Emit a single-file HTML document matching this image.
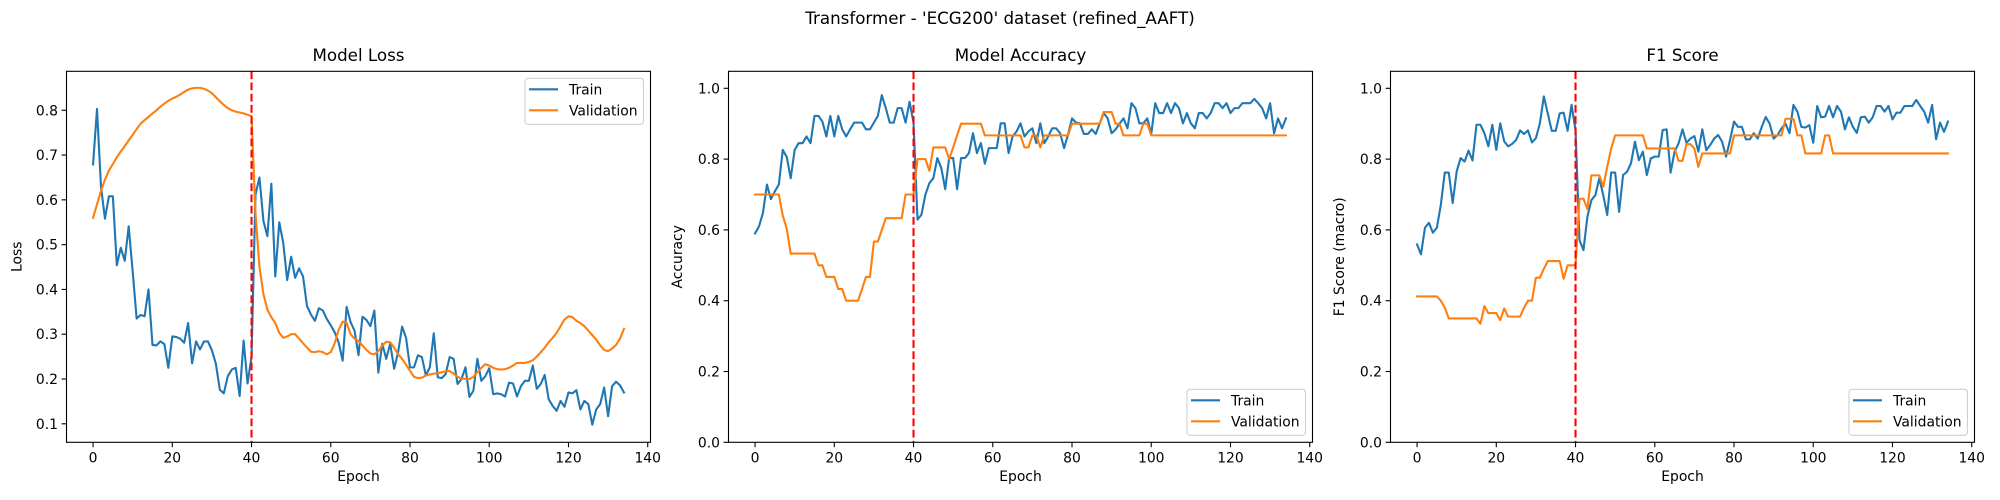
<!DOCTYPE html>
<html><head><meta charset="utf-8">
<style>
html,body{margin:0;padding:0;background:#fff;}
svg{display:block;font-family:"DejaVu Sans","Liberation Sans",sans-serif;}
</style></head>
<body>
<svg id="fig" width="2000" height="500" viewBox="0 0 2000 500" xmlns="http://www.w3.org/2000/svg">
<rect width="2000" height="500" fill="#fff"/>
<text x="1000" y="24" text-anchor="middle" font-size="16.7" fill="#000">Transformer - 'ECG200' dataset (refined_AAFT)</text>
</svg>
<script>
const epochs = Array.from({length:135},(_,i)=>i);
const xTicks = [0,20,40,60,80,100,120,140];
const lossTicks = [0.1,0.2,0.3,0.4,0.5,0.6,0.7,0.8];
const unitTicks = [0.0,0.2,0.4,0.6,0.8,1.0];
const switchEpoch = 40;

const lossTrain = [0.679,0.803,0.63,0.558,0.608,0.608,0.454,0.493,0.464,0.541,0.44,0.335,0.343,0.34,0.4,0.276,0.275,0.284,0.278,0.225,0.295,0.294,0.29,0.281,0.325,0.235,0.284,0.266,0.284,0.284,0.264,0.234,0.176,0.168,0.206,0.221,0.225,0.162,0.286,0.19,0.25,0.612,0.65,0.553,0.519,0.636,0.429,0.55,0.504,0.421,0.473,0.426,0.447,0.429,0.363,0.344,0.33,0.358,0.353,0.334,0.32,0.304,0.281,0.241,0.361,0.327,0.308,0.253,0.339,0.332,0.318,0.353,0.214,0.279,0.245,0.279,0.223,0.26,0.317,0.292,0.226,0.226,0.253,0.249,0.208,0.226,0.302,0.204,0.202,0.211,0.249,0.245,0.189,0.2,0.226,0.16,0.174,0.245,0.196,0.206,0.224,0.166,0.168,0.166,0.161,0.192,0.19,0.161,0.184,0.196,0.196,0.23,0.178,0.189,0.209,0.155,0.14,0.129,0.151,0.138,0.17,0.168,0.175,0.132,0.151,0.144,0.098,0.132,0.144,0.181,0.117,0.184,0.194,0.186,0.17];
const lossVal = [0.56,0.59,0.62,0.645,0.665,0.68,0.695,0.708,0.72,0.733,0.745,0.758,0.77,0.778,0.785,0.793,0.80,0.808,0.815,0.821,0.826,0.83,0.835,0.841,0.846,0.849,0.85,0.85,0.848,0.844,0.838,0.829,0.82,0.812,0.805,0.8,0.797,0.795,0.793,0.79,0.787,0.57,0.45,0.39,0.355,0.338,0.325,0.303,0.292,0.295,0.30,0.30,0.29,0.28,0.27,0.261,0.26,0.262,0.26,0.255,0.26,0.28,0.31,0.328,0.325,0.30,0.29,0.285,0.275,0.265,0.257,0.255,0.262,0.275,0.283,0.282,0.27,0.255,0.245,0.232,0.218,0.205,0.202,0.203,0.208,0.21,0.212,0.213,0.215,0.217,0.218,0.212,0.205,0.201,0.2,0.2,0.205,0.215,0.225,0.233,0.23,0.225,0.222,0.221,0.222,0.225,0.23,0.236,0.236,0.236,0.238,0.242,0.25,0.26,0.27,0.282,0.292,0.303,0.318,0.333,0.34,0.338,0.33,0.325,0.318,0.308,0.298,0.288,0.275,0.265,0.262,0.268,0.276,0.29,0.312];
const accTrain = [0.59,0.61,0.648,0.728,0.687,0.709,0.728,0.826,0.806,0.746,0.826,0.845,0.845,0.864,0.845,0.922,0.922,0.906,0.864,0.922,0.864,0.922,0.884,0.864,0.884,0.903,0.903,0.903,0.884,0.884,0.903,0.922,0.981,0.944,0.903,0.903,0.944,0.944,0.903,0.962,0.903,0.629,0.643,0.7,0.732,0.746,0.803,0.775,0.715,0.803,0.803,0.715,0.803,0.803,0.817,0.873,0.817,0.845,0.787,0.831,0.831,0.831,0.901,0.901,0.817,0.864,0.878,0.901,0.864,0.878,0.887,0.845,0.901,0.845,0.864,0.887,0.887,0.873,0.831,0.869,0.915,0.903,0.901,0.871,0.871,0.884,0.871,0.901,0.93,0.915,0.873,0.884,0.9,0.915,0.887,0.958,0.944,0.901,0.901,0.915,0.871,0.958,0.93,0.93,0.958,0.93,0.958,0.944,0.901,0.93,0.901,0.887,0.93,0.93,0.915,0.93,0.958,0.958,0.944,0.958,0.93,0.944,0.944,0.958,0.958,0.958,0.97,0.958,0.944,0.915,0.958,0.873,0.915,0.887,0.915];
const accVal = [0.7,0.7,0.7,0.7,0.7,0.7,0.7,0.64,0.603,0.533,0.533,0.533,0.533,0.533,0.533,0.533,0.5,0.5,0.467,0.467,0.467,0.433,0.433,0.4,0.4,0.4,0.4,0.433,0.467,0.467,0.567,0.567,0.6,0.633,0.633,0.633,0.633,0.633,0.7,0.7,0.7,0.8,0.8,0.8,0.767,0.833,0.833,0.833,0.833,0.8,0.833,0.867,0.9,0.9,0.9,0.9,0.9,0.9,0.867,0.867,0.867,0.867,0.867,0.867,0.867,0.867,0.867,0.867,0.833,0.833,0.867,0.867,0.833,0.867,0.867,0.867,0.867,0.867,0.867,0.867,0.9,0.9,0.9,0.9,0.9,0.9,0.9,0.9,0.933,0.933,0.933,0.9,0.9,0.867,0.867,0.867,0.867,0.867,0.9,0.9,0.867,0.867,0.867,0.867,0.867,0.867,0.867,0.867,0.867,0.867,0.867,0.867,0.867,0.867,0.867,0.867,0.867,0.867,0.867,0.867,0.867,0.867,0.867,0.867,0.867,0.867,0.867,0.867,0.867,0.867,0.867,0.867,0.867,0.867,0.867];
const f1Train = [0.559,0.531,0.606,0.62,0.592,0.606,0.671,0.762,0.762,0.676,0.765,0.803,0.793,0.824,0.796,0.897,0.897,0.873,0.836,0.897,0.826,0.901,0.85,0.836,0.843,0.854,0.881,0.871,0.881,0.847,0.859,0.901,0.977,0.929,0.88,0.88,0.929,0.931,0.88,0.953,0.882,0.571,0.543,0.637,0.684,0.698,0.746,0.698,0.642,0.762,0.762,0.651,0.755,0.764,0.788,0.849,0.797,0.821,0.755,0.802,0.807,0.807,0.882,0.884,0.762,0.821,0.844,0.884,0.846,0.858,0.865,0.821,0.884,0.825,0.84,0.858,0.868,0.849,0.807,0.854,0.906,0.891,0.891,0.856,0.856,0.873,0.858,0.891,0.919,0.9,0.858,0.868,0.887,0.9,0.873,0.953,0.934,0.891,0.889,0.896,0.846,0.95,0.918,0.92,0.95,0.918,0.95,0.934,0.884,0.918,0.891,0.874,0.918,0.92,0.903,0.918,0.95,0.95,0.934,0.95,0.912,0.931,0.931,0.95,0.95,0.95,0.967,0.95,0.934,0.903,0.953,0.856,0.903,0.877,0.906];
const f1Val = [0.412,0.412,0.412,0.412,0.412,0.412,0.4,0.38,0.35,0.35,0.35,0.35,0.35,0.35,0.35,0.35,0.335,0.385,0.365,0.365,0.365,0.345,0.378,0.355,0.355,0.355,0.355,0.38,0.4,0.4,0.465,0.465,0.49,0.512,0.512,0.512,0.512,0.462,0.5,0.5,0.5,0.688,0.688,0.659,0.754,0.754,0.754,0.722,0.778,0.83,0.867,0.867,0.867,0.867,0.867,0.867,0.867,0.867,0.83,0.83,0.83,0.83,0.83,0.83,0.83,0.83,0.795,0.795,0.842,0.842,0.83,0.778,0.816,0.816,0.816,0.816,0.816,0.816,0.816,0.816,0.867,0.867,0.867,0.867,0.867,0.867,0.867,0.867,0.867,0.867,0.867,0.867,0.867,0.914,0.914,0.914,0.867,0.867,0.816,0.816,0.816,0.816,0.816,0.867,0.867,0.816,0.816,0.816,0.816,0.816,0.816,0.816,0.816,0.816,0.816,0.816,0.816,0.816,0.816,0.816,0.816,0.816,0.816,0.816,0.816,0.816,0.816,0.816,0.816,0.816,0.816,0.816,0.816,0.816,0.816,0.816,0.816];

const NS = "http://www.w3.org/2000/svg";
const fig = document.getElementById('fig');
function mk(tag, attrs, parent){
  const e = document.createElementNS(NS, tag);
  for (const k in attrs) e.setAttribute(k, attrs[k]);
  (parent||fig).appendChild(e);
  return e;
}
const TOP = 71.3, BOT = 442.3;
const XMIN = -6.7, XMAX = 140.7;

function panel(cfg){
  const L = cfg.left, R = cfg.left + 584;
  const g = mk('g', {});
  
  
  const xs = v => L + (v - XMIN) / (XMAX - XMIN) * (R - L);
  const ys = v => BOT - (v - cfg.ymin) / (cfg.ymax - cfg.ymin) * (BOT - TOP);

  // title
  const t = mk('text', {x:(L+R)/2, y:61, 'text-anchor':'middle', 'font-size':'16.7', fill:'#000'}, g);
  t.textContent = cfg.title;
  
  

  // x ticks
  xTicks.forEach(v => {
    const x = xs(v);
    mk('line', {x1:x, x2:x, y1:BOT, y2:BOT+4.9, stroke:'#000', 'stroke-width':1.1}, g);
    const tl = mk('text', {x:x, y:BOT+20, 'text-anchor':'middle', 'font-size':'13.9', fill:'#000'}, g);
    tl.textContent = v;
    
    
  });
  // y ticks
  cfg.ticks.forEach(v => {
    const y = ys(v);
    mk('line', {x1:L-4.9, x2:L, y1:y, y2:y, stroke:'#000', 'stroke-width':1.1}, g);
    const tl = mk('text', {x:L-8.5, y:y+5, 'text-anchor':'end', 'font-size':'13.9', fill:'#000'}, g);
    tl.textContent = v.toFixed(1);
    
    
  });
  const xl = mk('text', {x:(L+R)/2, y:481, 'text-anchor':'middle', 'font-size':'13.9', fill:'#000'}, g);
  xl.textContent = 'Epoch';
  
  
  const yl = mk('text', {x:0, y:0, 'text-anchor':'middle', 'font-size':'13.9', fill:'#000',
    transform:`translate(${cfg.ylabelX},${(TOP+BOT)/2}) rotate(-90)`}, g);
  yl.textContent = cfg.ylabel;
  
  

  // clip
  const cid = 'clip' + cfg.name;
  const cp = mk('clipPath', {id:cid}, g);
  mk('rect', {x:L, y:TOP, width:R-L, height:BOT-TOP}, cp);
  const dg = mk('g', {'clip-path':`url(#${cid})`}, g);

  function series(arr, color, nm){
    const d = arr.map((v,i)=>(i?'L':'M')+xs(epochs[i]).toFixed(2)+' '+ys(v).toFixed(2)).join(' ');
    const p = mk('path', {d:d, fill:'none', stroke:color, 'stroke-width':2.1, 'stroke-linejoin':'round', 'stroke-linecap':'square'}, dg);
    
    
  }
  series(cfg.train, '#1f77b4', 'train-line');
  series(cfg.val, '#ff7f0e', 'validation-line');
  const vx = xs(switchEpoch);
  const vl = mk('line', {x1:vx, x2:vx, y1:TOP, y2:BOT, stroke:'#ff0000', 'stroke-width':2.1, 'stroke-dasharray':'7.8,3.4'}, dg);
  
  

  const frame = mk('rect', {x:L, y:TOP, width:R-L, height:BOT-TOP, fill:'none', stroke:'#000', 'stroke-width':1.1}, g);
  
  

  // legend
  const lw = 118.5, lh = 46;
  const lx = R - 7 - lw;
  const ly = cfg.legendTop ? TOP + 7 : BOT - 7 - lh;
  const lg = mk('g', {}, g);
  
  
  mk('rect', {x:lx, y:ly, width:lw, height:lh, rx:3, fill:'#fff', 'fill-opacity':0.8, stroke:'#d0d0d0', 'stroke-width':1.1}, lg);
  [['Train','#1f77b4'],['Validation','#ff7f0e']].forEach((e,i)=>{
    const yy = ly + 11 + i*21;
    const eg = mk('g', {}, lg);
    
    
    mk('line', {x1:lx+4, x2:lx+33, y1:yy, y2:yy, stroke:e[1], 'stroke-width':2.1}, eg);
    const tx = mk('text', {x:lx+44, y:yy+5, 'font-size':'13.9', fill:'#000'}, eg);
    tx.textContent = e[0];
  });
}

panel({name:'loss-panel', title:'Model Loss', left:66.5, ymin:0.0587, ymax:0.887, ticks:lossTicks,
  ylabel:'Loss', ylabelX:21.7, train:lossTrain, val:lossVal, legendTop:true});
panel({name:'accuracy-panel', title:'Model Accuracy', left:728.5, ymin:0, ymax:1.048, ticks:unitTicks,
  ylabel:'Accuracy', ylabelX:682, train:accTrain, val:accVal, legendTop:false});
panel({name:'f1-panel', title:'F1 Score', left:1390.5, ymin:0, ymax:1.048, ticks:unitTicks,
  ylabel:'F1 Score (macro)', ylabelX:1344, train:f1Train, val:f1Val, legendTop:false});
</script>
</body></html>
